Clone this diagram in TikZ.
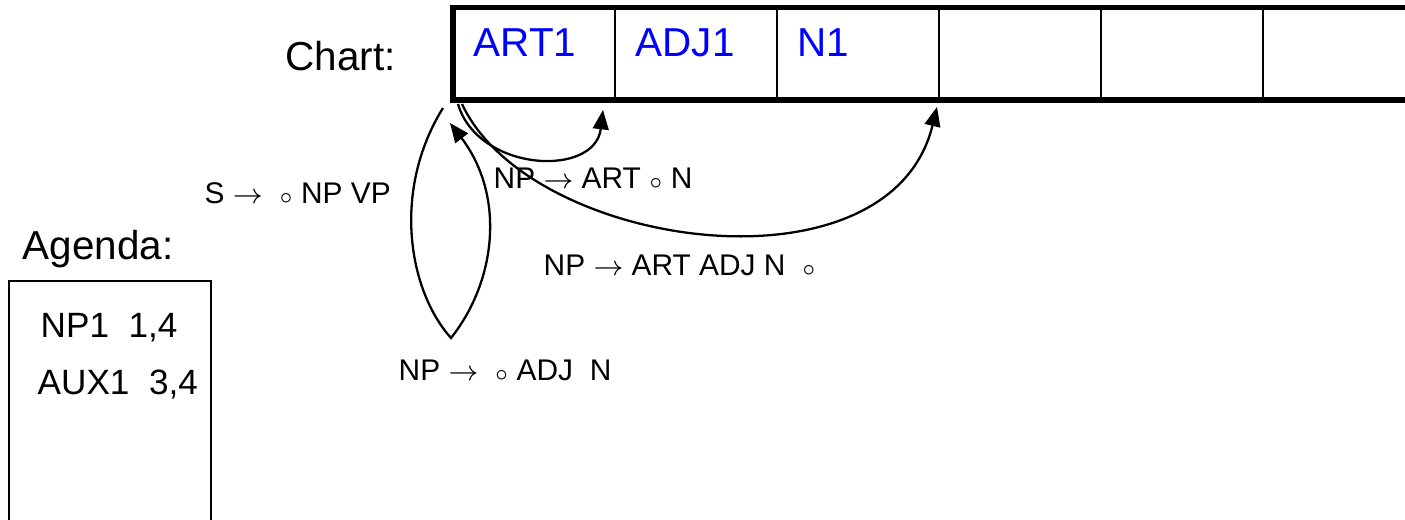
\documentclass[tikz,border=0pt]{standalone}
\usepackage{fontspec}
\setmainfont{Liberation Sans}
\usepackage{xcolor}
\usepackage{tikz}
\usetikzlibrary{arrows.meta}
\definecolor{bleuvif}{RGB}{0, 0, 255}

\begin{document}
\begin{tikzpicture}[
    fleche/.style={line width=0.65pt, -{Triangle[length=5.5pt, width=4.5pt]}},
    regle/.style={anchor=base west, inner sep=0pt, font=\fontsize{8.5}{10}\selectfont},
    titre/.style={anchor=base west, inner sep=0pt, font=\fontsize{11.5}{13}\selectfont},
    entree/.style={anchor=base west, inner sep=0pt, font=\fontsize{10}{12}\selectfont}]
    \useasboundingbox (0,0) rectangle (14.05,-5.2);
    % la table, ouverte à droite
    \foreach \c in {1,...,5}{
      \draw[line width=0.85pt] ({4.53+\c*1.62},-0.075) -- ({4.53+\c*1.62},-1.0);
    }
    \draw[line width=1.6pt] (14.05,-0.075) -- (4.53,-0.075) -- (4.53,-1.0) -- (14.05,-1.0);
    \foreach \lbl [count=\c from 0] in {ART1, ADJ1, N1}{
      \node[titre, text=bleuvif] (case\c) at ({4.73+\c*1.62},-0.57) {\lbl};
    }
    \node[titre] (chart) at (2.85,-0.71) {Chart:};
    % agenda
    \node[titre] (agenda) at (0.22,-2.60) {Agenda:};
    \draw[line width=0.6pt] (0.09,-5.2) -- (0.09,-2.81) -- (2.11,-2.81) -- (2.11,-5.2);
    \node[entree] (np1) at (0.40,-3.38) {NP1\ \ 1,4};
    \node[entree] (aux1) at (0.37,-3.95) {AUX1\ \ 3,4};
    % règles
    \node[regle] (rs) at (2.04,-2.035) {S $\rightarrow$ \ $\scriptstyle\circ$ NP VP};
    \node[regle] (rart) at (4.93,-1.885) {NP $\rightarrow$ ART $\scriptstyle\circ$ N};
    \node[regle] (rnp) at (5.43,-2.755) {NP $\rightarrow$ ART ADJ N \ $\scriptstyle\circ$};
    \node[regle] (radj) at (3.98,-3.805) {NP $\rightarrow$ \ $\scriptstyle\circ$ ADJ\ \ N};
    % arcs
    \coordinate (a0) at (4.43,-1.08);
    \coordinate (fond) at (4.51,-3.38);
    \coordinate (a1) at (4.50,-1.23);
    \coordinate (b0) at (4.58,-1.04);
    \coordinate (b1) at (6.03,-1.10);
    \coordinate (c0) at (4.62,-1.04);
    \coordinate (c1) at (9.37,-1.07);
    \draw[fleche] (a0) .. controls (3.92,-1.9) and (4.08,-2.9) .. (fond)
      .. controls (4.97,-2.8) and (5.05,-1.95) .. (a1);
    \draw[fleche] (b0) .. controls (4.78,-1.72) and (5.95,-1.78) .. (b1);
    \draw[fleche] (c0) .. controls (5.3,-2.5) and (8.9,-3.0) .. (c1);
  \end{tikzpicture}
\end{document}
